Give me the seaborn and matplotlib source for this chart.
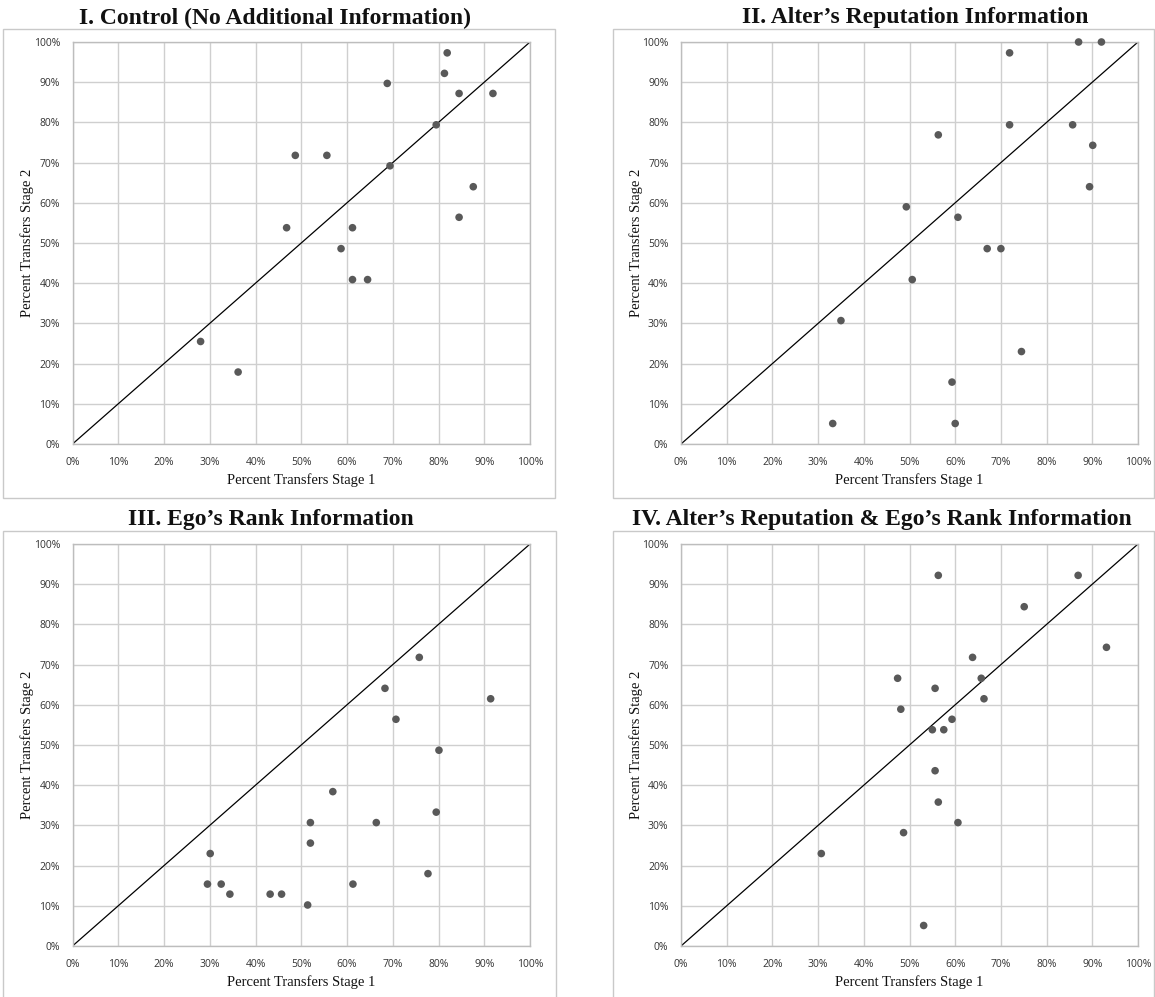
import matplotlib
matplotlib.use("Agg")
import matplotlib.pyplot as plt
import seaborn as sns
import pandas as pd
from matplotlib.patches import Rectangle
from matplotlib.ticker import PercentFormatter, MultipleLocator

# ---- data (percent) ----
titles = ["I. Control (No Additional Information)",
          "II. Alter\u2019s Reputation Information",
          "III. Ego\u2019s Rank Information",
          "IV. Alter\u2019s Reputation & Ego\u2019s Rank Information"]

ctrl_x = [81.9, 81.3, 68.8, 84.5, 91.9, 79.5, 48.7, 55.6, 69.4, 87.6, 84.5, 46.8, 61.2, 58.7, 61.2, 64.5, 28.0, 36.2]
ctrl_y = [97.3, 92.2, 89.7, 87.2, 87.2, 79.4, 71.8, 71.8, 69.2, 64.0, 56.4, 53.8, 53.8, 48.6, 40.9, 40.9, 25.5, 17.9]

rep_x = [87.0, 92.0, 71.9, 71.9, 85.7, 56.3, 90.1, 89.4, 49.3, 60.6, 67.0, 70.0, 50.6, 35.0, 74.5, 59.3, 33.2, 60.0]
rep_y = [100.0, 100.0, 97.3, 79.4, 79.4, 76.9, 74.3, 64.0, 59.0, 56.4, 48.6, 48.6, 40.9, 30.7, 23.0, 15.4, 5.1, 5.1]

rank_x = [75.8, 68.3, 91.4, 70.7, 80.1, 56.9, 79.5, 52.0, 66.4, 52.0, 30.1, 77.7, 29.5, 32.5, 61.3, 34.4, 43.2, 45.7, 51.4]
rank_y = [71.8, 64.1, 61.5, 56.4, 48.7, 38.4, 33.3, 30.7, 30.7, 25.6, 23.0, 18.0, 15.4, 15.4, 15.4, 12.9, 12.9, 12.9, 10.2]

both_x = [56.3, 86.9, 75.1, 93.1, 63.8, 47.4, 65.7, 55.6, 66.3, 48.1, 59.3, 55.0, 57.5, 55.6, 56.3, 60.6, 48.7, 30.7, 53.1]
both_y = [92.2, 92.2, 84.4, 74.3, 71.8, 66.6, 66.6, 64.1, 61.5, 58.9, 56.4, 53.8, 53.8, 43.6, 35.8, 30.7, 28.2, 23.0, 5.1]

diag = [0, 100]
xlabel = "Percent Transfers Stage 1"
ylabel = "Percent Transfers Stage 2"

panels = [(ctrl_x, ctrl_y), (rep_x, rep_y), (rank_x, rank_y), (both_x, both_y)]

sns.set_style("white")
plt.rcParams['font.family'] = ['Liberation Serif', 'DejaVu Serif']

W, H = 1155, 997
fig = plt.figure(figsize=(W / 100, H / 100), dpi=100)
fig.patch.set_facecolor("white")

def fx(px):
    return px / W

def fy(py):
    return 1 - py / H

# axes boxes in pixels: (left, top, right, bottom)
ax_px = [(72.5, 42, 530, 444), (681, 42, 1138, 444),
         (72.5, 544, 530, 946), (681, 544, 1138, 946)]
frame_px = [(3, 29, 555, 498), (613, 29, 1154, 498),
            (3, 531, 556, 1000), (613, 531, 1154, 1000)]
title_pos = [(275, 18), (915, 18), (271, 520), (882, 520)]

for i, ((xs, ys), (l, t, r, b)) in enumerate(zip(panels, ax_px)):
    fl, ft, fr, fb = frame_px[i]
    fig.patches.append(Rectangle((fx(fl), fy(fb)), fx(fr) - fx(fl), fy(ft) - fy(fb),
                                 transform=fig.transFigure, fill=False,
                                 edgecolor="#c9c9c9", linewidth=1.0, zorder=0))
    ax = fig.add_axes([fx(l), fy(b), fx(r) - fx(l), fy(t) - fy(b)])
    df = pd.DataFrame({"x": xs, "y": ys})
    ax.plot(diag, diag, color="black", linewidth=0.9, zorder=2)
    sns.scatterplot(data=df, x="x", y="y", ax=ax, color="#595959", s=30,
                    edgecolor="none", zorder=3, clip_on=False)
    ax.set_xlim(0, 100)
    ax.set_ylim(0, 100)
    ax.xaxis.set_major_locator(MultipleLocator(10))
    ax.yaxis.set_major_locator(MultipleLocator(10))
    ax.xaxis.set_major_formatter(PercentFormatter(decimals=0))
    ax.yaxis.set_major_formatter(PercentFormatter(decimals=0))
    ax.grid(True, color="#cfcfcf", linewidth=1.0, zorder=0)
    ax.set_axisbelow(True)
    for s in ax.spines.values():
        s.set_color("#bdbdbd")
        s.set_linewidth(1.0)
    ax.tick_params(axis="both", length=0, pad=9, labelsize=7.5, labelcolor="#333333")
    for lab in ax.get_xticklabels() + ax.get_yticklabels():
        lab.set_fontfamily(["Open Sans", "DejaVu Sans"])
    ax.set_xlabel(xlabel, fontsize=10.5, labelpad=4, color="#111111")
    ax.set_ylabel(ylabel, fontsize=10.5, color="#111111")
    ax.yaxis.set_label_coords(-0.084, 0.5)
    tx, ty = title_pos[i]
    fig.text(fx(tx), fy(ty), titles[i], ha="center", va="center",
             fontsize=17, fontweight="bold", color="#111111")

fig.savefig("out.png", dpi=100, facecolor="white")
